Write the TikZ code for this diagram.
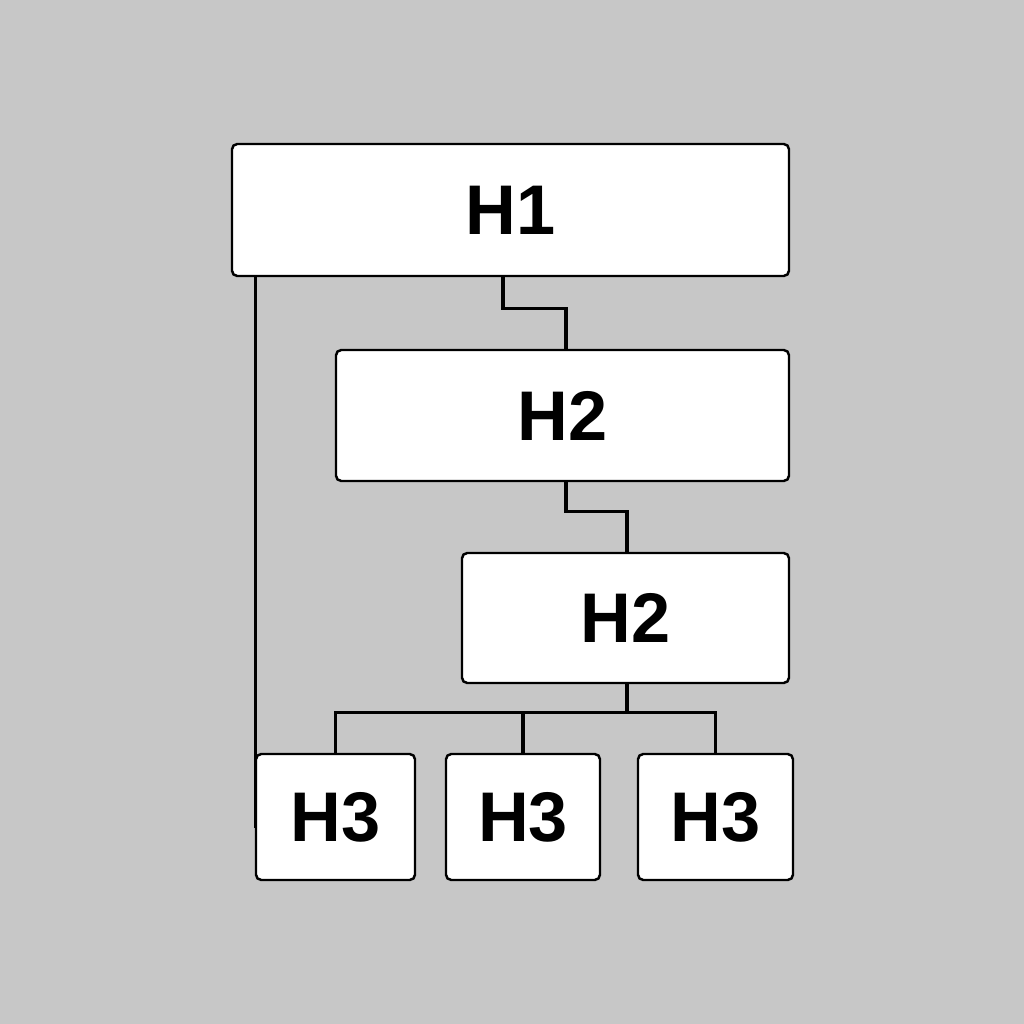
\documentclass[tikz,border=0pt]{standalone}
\usepackage{fontspec}
\setmainfont{Liberation Sans}
\definecolor{bggray}{HTML}{C7C7C7}
\tikzset{
    headbox/.style={draw=black, line width=0.7pt, fill=white, rounded corners=1.5pt,
        inner sep=0pt, font=\fontsize{20}{24}\selectfont\bfseries},
    link/.style={line width=0.9pt, black}
}
\begin{document}
\begin{tikzpicture}
        \fill[bggray] (0,0) rectangle (10.24,10.24);
        \useasboundingbox (0,0) rectangle (10.24,10.24);
        % headings
        \node[headbox, minimum width=5.57cm, minimum height=1.32cm] (h1) at (5.105, 8.14) {H1};
        \node[headbox, minimum width=4.53cm, minimum height=1.31cm] (h2a) at (5.625, 6.085) {H2};
        \node[headbox, minimum width=3.27cm, minimum height=1.30cm] (h2b) at (6.255, 4.06) {H2};
        \node[headbox, minimum width=1.59cm, minimum height=1.26cm] (h3a) at (3.355, 2.07) {H3};
        \node[headbox, minimum width=1.54cm, minimum height=1.26cm] (h3b) at (5.23, 2.07) {H3};
        \node[headbox, minimum width=1.55cm, minimum height=1.26cm] (h3c) at (7.155, 2.07) {H3};
        % connectors
        \draw[link] ([xshift=-0.075cm]h1.south) -- ++(0,-0.31) -| ([xshift=0.035cm]h2a.north);
        \draw[link] ([xshift=0.035cm]h2a.south) -- ++(0,-0.29) -| ([xshift=0.015cm]h2b.north);
        \draw[link] ([xshift=0.015cm]h2b.south) -- ++(0,-0.28) coordinate (bus);
        \draw[link] (h3a.north) |- (bus) -| (h3c.north);
        \draw[link] (h3b.north) -- (h3b.north |- bus);
        \coordinate (leftend) at ([xshift=0.01cm, yshift=-0.11cm]h3a.west);
        \draw[link] (leftend |- h1.south) -- (leftend);
\end{tikzpicture}
\end{document}
